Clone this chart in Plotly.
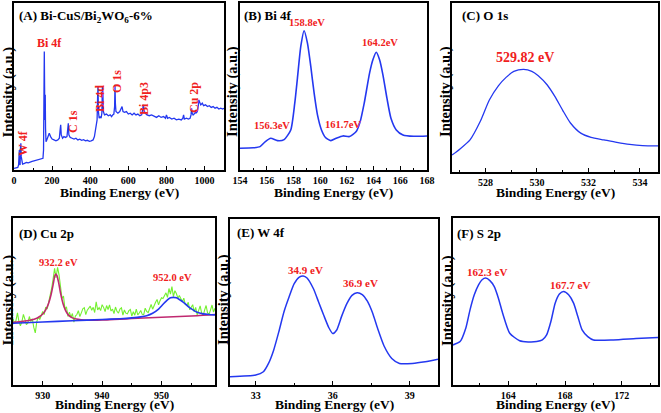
import plotly.graph_objects as go

W, H = 661, 413
SERIF = "Liberation Serif"
BLUE = "#2438f0"
GREEN = "#74f030"
PURPLE = "#c02870"
RED = "#f02020"

# ---------------- data ----------------
# (A) survey spectrum
survey_be = [0, 10, 20, 24, 26, 28, 30, 32, 34, 36, 38, 41, 45, 55, 65, 75, 85, 95, 105, 115, 125, 135, 145,
             152, 155, 157, 159, 160.5, 162, 164, 165.5, 168, 172, 178, 185, 192, 200, 210, 220, 230, 238, 242,
             245, 248, 255, 262, 270, 278, 282, 285, 288, 295, 305, 315, 325, 335, 345, 355, 365, 375, 385, 395,
             405, 415, 422, 428, 432, 436, 439, 441, 443, 447, 452, 457, 461, 464, 466, 469, 475, 485, 495, 505,
             512, 518, 524, 528, 530, 532, 535, 545, 555, 562, 567, 572, 580, 590, 600, 610, 620, 630, 640, 650,
             660, 670, 676, 679, 682, 688, 698, 710, 722, 735, 748, 760, 772, 785, 795, 800, 806, 815, 828, 840,
             852, 865, 878, 886, 890, 894, 905, 915, 924, 929, 932, 935, 940, 945, 950, 953, 956, 962, 966, 970,
             974, 980, 988, 995, 1005, 1015, 1025, 1035, 1045, 1055, 1065, 1075, 1085, 1095, 1102]
survey_int = [1.0, 1.2, 1.5, 3, 10, 12, 4, 3, 13, 16, 8, 5, 3.5, 4, 4.5, 4.3, 5, 5.2, 5.5, 5.8, 6, 6.3, 6.6,
              7, 12, 40, 71, 50, 30, 45, 25, 17, 18, 20, 22, 20, 18.5, 18, 17.5, 18, 19, 24,
              27, 21, 19, 20, 19.5, 20, 24, 28, 21, 19.5, 19, 18.5, 19, 18, 18.5, 17.8, 18.2, 17.5, 17.8, 17.2,
              17.5, 18, 20, 24, 27, 30, 45, 50, 35, 31, 32, 31, 34, 50, 48, 35, 33, 33.5, 32.5, 33,
              32, 33, 33.5, 38, 51, 40, 35, 34, 35, 37, 38, 35, 34.5, 35, 33.5, 34, 33, 34, 33, 33.5,
              32.5, 33, 36, 39, 36, 34, 33, 32.5, 33, 32, 31.5, 32.5, 31.5, 32, 31, 33, 31, 31.5, 30.5, 31,
              30, 30.5, 30, 31, 33, 30.5, 31, 30.5, 31, 33, 37, 34, 33, 33.5, 34, 36, 34, 35, 37, 42,
              41, 39, 40, 38.5, 39, 38, 38.5, 37.5, 38, 37, 37.5, 36.5, 37, 36.5, 37]

# (B) Bi 4f
bi_be = [154, 155, 155.5, 155.9, 156.3, 156.8, 157.3, 157.8, 158.1, 158.3, 158.55, 158.8, 159.05, 159.3,
         159.55, 159.8, 160.1, 160.4, 160.8, 161.2, 161.7, 162.2, 162.7, 163.0, 163.3, 163.7, 163.95, 164.2,
         164.45, 164.7, 165.0, 165.3, 165.7, 166.2, 167, 168]
bi_int = [13, 13.3, 14, 17, 19, 17.6, 18.2, 24, 40, 55, 74, 83.4, 76, 62, 46, 33, 24, 19.5, 17.6, 19, 20.4,
          20, 23, 29, 40, 58, 66, 70.5, 66, 57, 43, 31, 24, 21, 20.2, 20.4]

# (C) O 1s
o_be = [526.7, 527.0, 527.4, 527.8, 528.15, 528.5, 528.8, 529.1, 529.48, 529.8, 530.05, 530.4, 530.7, 531.0,
        531.3, 531.7, 532.1, 532.6, 533.1, 533.6, 534.1, 534.7]
o_int = [10, 13.5, 19, 30, 42.6, 51, 56, 59.5, 60.7, 59.6, 57, 51.5, 44.6, 36.5, 29, 23, 20.5, 19, 17.5, 16.3,
         15.6, 15.4]

# (D) Cu 2p raw data, two fitted components (each on the background)
cu_raw_be = [925.0, 925.25, 925.5, 925.75, 926.0, 926.25, 926.5, 926.75, 927.0, 927.25, 927.5, 927.75, 928.0,
             928.25, 928.5, 928.75, 929.0, 929.25, 929.5, 929.75, 930.0, 930.25, 930.5, 930.75, 931.0, 931.25,
             931.5, 931.75, 932.0, 932.25, 932.5, 932.75, 933.0, 933.25, 933.5, 933.75, 934.0, 934.25, 934.5,
             934.75, 935.0, 935.25, 935.5, 935.75, 936.0, 936.25, 936.5, 936.75, 937.0, 937.25, 937.5, 937.75,
             938.0, 938.25, 938.5, 938.75, 939.0, 939.25, 939.5, 939.75, 940.0, 940.25, 940.5, 940.75, 941.0,
             941.25, 941.5, 941.75, 942.0, 942.25, 942.5, 942.75, 943.0, 943.25, 943.5, 943.75, 944.0, 944.25,
             944.5, 944.75, 945.0, 945.25, 945.5, 945.75, 946.0, 946.25, 946.5, 946.75, 947.0, 947.25, 947.5,
             947.75, 948.0, 948.25, 948.5, 948.75, 949.0, 949.25, 949.5, 949.75, 950.0, 950.25, 950.5, 950.75,
             951.0, 951.25, 951.5, 951.75, 952.0, 952.25, 952.5, 952.75, 953.0, 953.25, 953.5, 953.75, 954.0,
             954.25, 954.5, 954.75, 955.0, 955.25, 955.5, 955.75, 956.0, 956.25, 956.5, 956.75, 957.0, 957.25,
             957.5, 957.75, 958.0, 958.25, 958.5, 958.75, 959.0]
cu_raw_int = [39.5, 36.8, 38.6, 43.2, 37.9, 35.5, 38.0, 42.3, 39.4, 36.1, 37.2, 41.0, 38.0,
              39.6, 34.5, 31.2, 37.8, 40.8, 39.2, 41.1, 44.0, 42.2, 46.6, 45.5, 49.9, 52.4,
              57.8, 63.5, 69.8, 64.2, 70.5, 66.0, 58.5, 51.8, 53.2, 45.4, 46.8, 41.0, 43.6,
              40.5, 42.8, 37.6, 41.3, 42.2, 44.5, 41.0, 43.2, 45.6, 46.3, 42.1, 44.8, 46.0,
              47.2, 44.7, 46.5, 43.4, 49.8, 45.0, 46.3, 44.6, 48.1, 46.5, 43.9, 47.6, 45.2,
              48.0, 44.3, 45.4, 42.8, 46.7, 44.1, 43.0, 45.5, 46.2, 41.8, 44.9, 43.0, 42.6,
              44.5, 45.2, 41.2, 43.9, 41.8, 45.4, 42.0, 43.1, 44.6, 42.3, 42.2, 46.0, 44.0,
              43.3, 46.1, 48.2, 45.4, 47.9, 49.6, 51.2, 48.0, 50.5, 52.3, 51.8, 53.6, 55.2,
              52.5, 57.8, 54.4, 58.9, 53.0, 56.5, 54.8, 52.0, 53.6, 51.2, 49.8, 52.0, 48.2,
              47.6, 49.5, 45.0, 46.2, 48.1, 43.8, 46.5, 42.0, 44.8, 47.4, 43.2, 41.5, 44.8,
              47.6, 43.2, 42.4, 45.0, 47.9, 43.7, 46.0]
cu_fit1_be = [925, 926, 927, 928, 929, 929.5, 930, 930.5, 931, 931.4, 931.8, 932.0, 932.2, 932.4, 932.7, 933.0,
              933.4, 933.8, 934.3, 935, 936, 937, 938, 940, 942, 944, 946, 948, 950, 952, 954, 956, 959]
cu_fit1_int = [37.5, 37.8, 38.3, 38.9, 40, 41, 42.5, 45, 49, 54, 61, 65, 66.5, 65.5, 61, 55,
               49, 45, 42, 40.2, 39.3, 38.9, 38.8, 38.9, 39.3, 39.6, 40, 40.3, 40.6, 40.9, 41.2, 41.5, 42.2]
cu_fit2_be = [925, 930, 935, 940, 943, 945, 946.5, 947.5, 948.5, 949.5, 950.3, 951, 951.5, 952, 952.5, 953,
              953.7, 954.5, 955.3, 956, 957, 958, 959]
cu_fit2_int = [37, 37.7, 38.5, 39.2, 39.7, 40.2, 40.8, 41.5, 43, 45.5, 48.5, 51, 52.2, 52.5, 52.2, 51.2,
               49.5, 47, 45, 43.5, 42.6, 42.2, 42]

# (E) W 4f
w_be = [32.0, 33.0, 33.3, 33.5, 33.7, 33.9, 34.1, 34.3, 34.5, 34.7, 34.85, 35.0, 35.25, 35.45, 35.65, 35.85,
        36.0, 36.15, 36.35, 36.55, 36.75, 36.95, 37.15, 37.35, 37.55, 37.75, 38.0, 38.3, 38.6, 39.1, 39.6, 40.1]
w_int = [5, 6, 8, 13, 21, 32, 44, 53, 61, 65, 65.7, 64.5, 58, 50, 42, 34.5, 31, 33, 41.5, 49, 54, 55.6,
         54.5, 50.5, 43.5, 34, 23.5, 16, 13, 13, 14, 15.5]

# (F) S 2p
s_be = [160.1, 160.6, 161.0, 161.3, 161.6, 161.9, 162.15, 162.4, 162.7, 163.0, 163.3, 163.6, 164.1, 164.8,
        165.4, 166.0, 166.4, 166.7, 167.0, 167.3, 167.6, 167.9, 168.25, 168.6, 168.9, 169.2, 169.6, 170.0,
        171.4, 173.0, 174.6]
s_int = [24, 26, 34, 45, 54, 60, 63, 64, 62.5, 59, 52, 43, 31, 26.5, 25.8, 26, 27, 30, 38, 49, 54.5, 56,
         54, 49, 41, 33, 29, 27, 27, 27.8, 28.5]

# tick / label texts
panel_titles = ["(A) Bi-CuS/Bi<sub>2</sub>WO<sub>6</sub>-6%", "(B) Bi 4f", "(C) O 1s",
                "(D) Cu 2p", "(E) W 4f", "(F) S 2p"]
x_title = "Binding Energy (eV)"
y_title = "Intensity (a.u.)"

# ---------------- layout helpers ----------------
def fx(p):
    return p / W

def fy(p):
    return 1 - p / H

# panel boxes in pixels: left, right, top, bottom
boxes = [(14, 224, 3, 170), (240, 427, 3, 170), (452, 658, 3, 172),
         (13, 215, 218, 385), (230, 438, 219, 385), (453, 658, 218, 385)]
xranges = [[0, 1102], [154, 168], [526.7, 534.7], [925, 959], [32, 40.1], [160.1, 174.55]]
xticks = [dict(tick0=0, dtick=200, minor=100), dict(tick0=154, dtick=2, minor=1),
          dict(tick0=528, dtick=2, minor=1), dict(tick0=930, dtick=10, minor=5),
          dict(tick0=33, dtick=3, minor=1.5), dict(tick0=164, dtick=4, minor=2)]

fig = go.Figure()

def ax(i):
    return ("x" if i == 0 else f"x{i+1}"), ("y" if i == 0 else f"y{i+1}")

def add_line(i, x, y, color, width=1.5, shape="spline", smoothing=0.6):
    xa, ya = ax(i)
    line = dict(color=color, width=width, shape=shape)
    if shape == "spline":
        line["smoothing"] = smoothing
    fig.add_trace(go.Scatter(x=x, y=y, mode="lines", line=line, xaxis=xa, yaxis=ya,
                             showlegend=False, hoverinfo="skip"))

add_line(0, survey_be, survey_int, BLUE, 1.3, "linear")
add_line(1, bi_be, bi_int, BLUE, 1.6)
add_line(2, o_be, o_int, BLUE, 1.3)
add_line(3, cu_raw_be, cu_raw_int, GREEN, 1.1, "linear")
add_line(3, cu_fit1_be, cu_fit1_int, PURPLE, 1.6)
add_line(3, cu_fit2_be, cu_fit2_int, BLUE, 1.6)
add_line(4, w_be, w_int, BLUE, 1.5)
add_line(5, s_be, s_int, BLUE, 1.5)

layout = dict(width=W, height=H, margin=dict(l=0, r=0, t=0, b=0, autoexpand=False),
              paper_bgcolor="white", plot_bgcolor="white",
              font=dict(family=SERIF, color="black"))
for i, (l, r, t, b) in enumerate(boxes):
    key = "" if i == 0 else str(i + 1)
    tk = xticks[i]
    layout["xaxis" + key] = dict(
        domain=[fx(l), fx(r)], range=xranges[i], anchor="y" + key,
        showline=True, mirror=True, linecolor="black", linewidth=1.6,
        showgrid=False, zeroline=False, ticks="inside", ticklen=4, tickwidth=1.2,
        tickcolor="black", tick0=tk["tick0"], dtick=tk["dtick"],
        tickfont=dict(family=SERIF, size=10, color="black", weight="bold"),
        minor=dict(ticks="inside", ticklen=2.5, tickwidth=1, tickcolor="black",
                   dtick=tk["minor"], tick0=tk["tick0"], showgrid=False),
    )
    layout["yaxis" + key] = dict(
        domain=[fy(b), fy(t)], range=[0, 100], anchor="x" + key,
        showline=True, mirror=True, linecolor="black", linewidth=1.6,
        showgrid=False, zeroline=False, ticks="", showticklabels=False,
    )
fig.update_layout(**layout)

ann = []

def text(x, y, s, size, color="black", angle=0, xanchor="center"):
    ann.append(dict(x=fx(x), y=fy(y), xref="paper", yref="paper", text=f"<b>{s}</b>",
                    showarrow=False, textangle=angle, xanchor=xanchor, yanchor="middle",
                    font=dict(family=SERIF, size=size, color=color)))

# panel titles
title_pos = [(17, 17), (242, 15), (460, 15), (17, 233), (235, 232), (455, 233)]
for (x, y), s in zip(title_pos, panel_titles):
    text(x, y, s, 13, xanchor="left")

# axis titles
for (l, r, t, b), ytx in zip(boxes, [7.5, 232, 445, 7.5, 223, 447]):
    text((l + r) / 2, 192 if t < 100 else 404.5, x_title, 13.5)
    text(ytx, 92 if t < 100 else 300, y_title, 14.5, angle=-90)

# peak labels
text(23, 143, "W 4f", 12, RED, -90)
text(49, 43, "Bi 4f", 12, RED)
text(73, 122, "C 1s", 12, RED, -90)
text(100, 99, "Bi 4d", 12, RED, -90)
text(117, 82, "O 1s", 12, RED, -90)
text(144, 99, "Bi 4p3", 12, RED, -90)
text(194, 98, "Cu 2p", 12, RED, -90)

text(307, 22, "158.8eV", 10.5, RED)
text(380, 43, "164.2eV", 10.5, RED)
text(272, 125, "156.3eV", 10.5, RED)
text(343, 124, "161.7eV", 10.5, RED)
text(525, 57, "529.82 eV", 14, RED)
text(58, 262, "932.2 eV", 10.5, RED)
text(172, 277, "952.0 eV", 10.5, RED)
text(305, 270, "34.9 eV", 11, RED)
text(360, 283, "36.9 eV", 11, RED)
text(487, 272, "162.3 eV", 11, RED)
text(570, 285, "167.7 eV", 11, RED)

fig.update_layout(annotations=ann)
fig.write_html("out.html", config={"displayModeBar": False},
               post_script="document.body.style.margin='0px';document.body.style.overflow='hidden';")
